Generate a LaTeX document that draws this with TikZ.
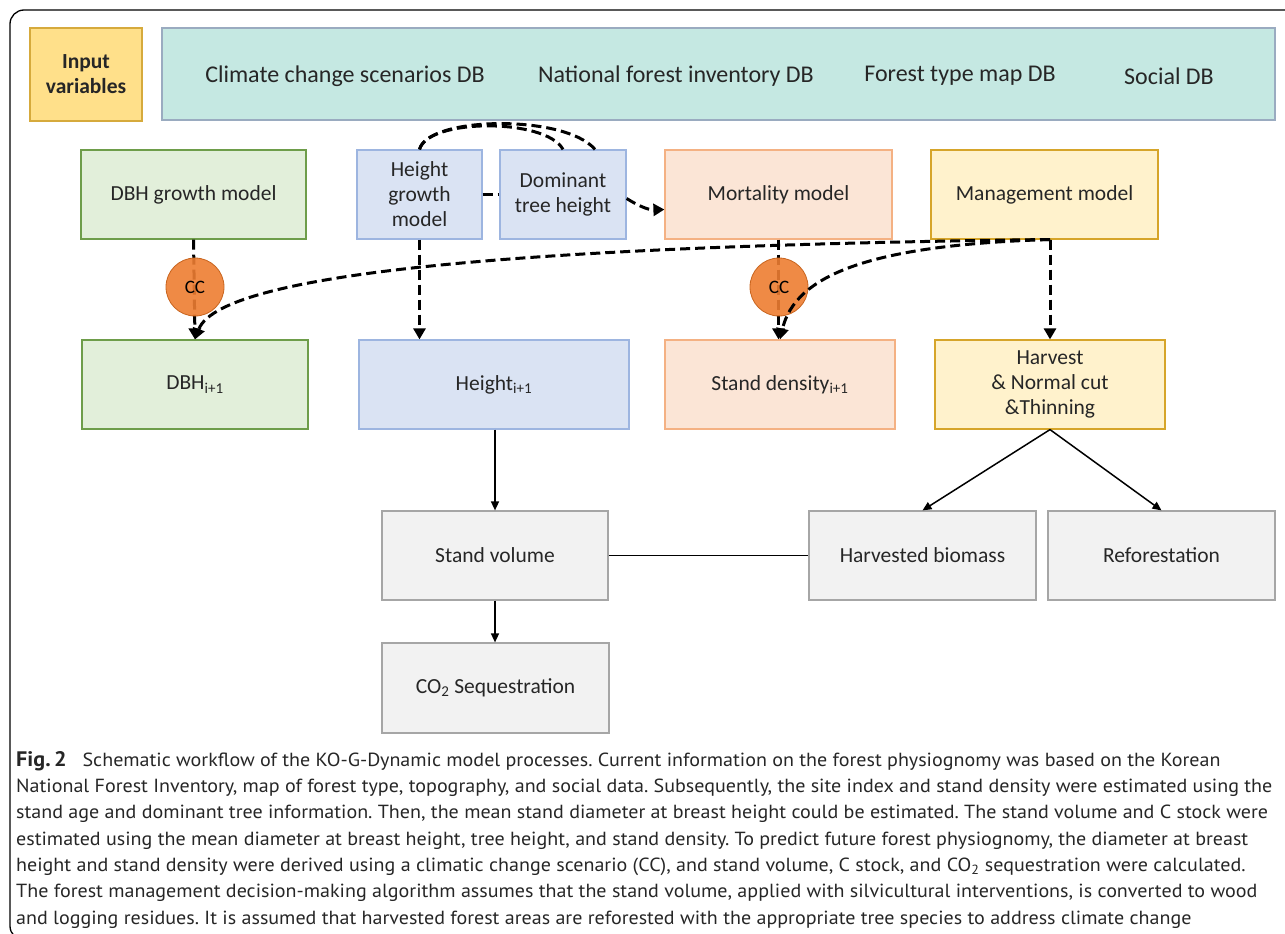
\documentclass[tikz,border=0pt]{standalone}
\usepackage{fontspec}
\setmainfont{Carlito}
\newfontfamily\capfont[FakeStretch=1.055]{PT Sans}
\usetikzlibrary{arrows.meta,calc}
\definecolor{inpfill}{HTML}{FFE08A}
\definecolor{inpdraw}{HTML}{D6AA3C}
\definecolor{tealfill}{HTML}{C5E8E2}
\definecolor{tealdraw}{HTML}{9AABC0}
\definecolor{grnfill}{HTML}{E2EFDA}
\definecolor{grndraw}{HTML}{6E9D4A}
\definecolor{blufill}{HTML}{DAE3F3}
\definecolor{bludraw}{HTML}{9DB5E0}
\definecolor{orgfill}{HTML}{FBE5D6}
\definecolor{orgdraw}{HTML}{F4B183}
\definecolor{ylwfill}{HTML}{FFF2CC}
\definecolor{ylwdraw}{HTML}{D6A52A}
\definecolor{gryfill}{HTML}{F2F2F2}
\definecolor{grydraw}{HTML}{A6A6A6}
\definecolor{ccfill}{HTML}{ED7D31}
\definecolor{ccdraw}{HTML}{C8651F}
\frenchspacing
\begin{document}
\begin{tikzpicture}[x=1pt,y=-1pt,
  box/.style={draw, line width=1.2pt, inner sep=0pt, align=center,
    font=\fontsize{21.5}{25}\selectfont, text=black!85},
  gbox/.style={box, fill=grnfill, draw=grndraw},
  bbox/.style={box, fill=blufill, draw=bludraw},
  obox/.style={box, fill=orgfill, draw=orgdraw},
  ybox/.style={box, fill=ylwfill, draw=ylwdraw},
  graybox/.style={box, fill=gryfill, draw=grydraw},
  ccnode/.style={circle, fill=ccfill, fill opacity=0.9, text opacity=1, draw=ccdraw, line width=0.8pt,
    minimum size=58pt, inner sep=0pt, font=\fontsize{19}{20}\selectfont},
  dashline/.style={line width=3pt, dash pattern=on 10pt off 5pt},
  dasharrow/.style={dashline, -{Triangle[length=11pt,width=12pt]}},
  solidarrow/.style={line width=1.5pt, -{Triangle[length=9pt,width=8pt]}},
  dbtext/.style={font=\fontsize{24}{28}\selectfont, text=black!85},
  capline/.style={anchor=base west, inner sep=0pt, font=\capfont\fontsize{19}{22}\selectfont, text=black!85}
]
\useasboundingbox (0,0) rectangle (1285,934);
\clip (0,0) rectangle (1285,934);
\draw[line width=1.3pt, rounded corners=14pt] (10,10) rectangle (1310,940);

% input row
\node[box, fill=inpfill, draw=inpdraw, minimum width=112pt, minimum height=93pt,
  font=\bfseries\fontsize{21.5}{25}\selectfont] (inp) at (86,74.5) {Input\\variables};
\node[box, fill=tealfill, draw=tealdraw, minimum width=1113pt, minimum height=92pt] (db) at (718.5,74) {};
\node[dbtext] (db1) at (345,76) {Climate change scenarios DB};
\node[dbtext] (db2) at (676,76) {National forest inventory DB};
\node[dbtext] (db3) at (960,76) {Forest type map DB};
\node[dbtext] (db4) at (1169,76) {Social DB};

% model row
\node[gbox, minimum width=225pt, minimum height=89pt] (dbhg) at (193.5,194.5) {DBH growth model};
\node[bbox, minimum width=125pt, minimum height=89pt] (hg) at (419.5,194.5) {Height\\growth\\model};
\node[bbox, minimum width=126pt, minimum height=89pt] (dom) at (563,194.5) {Dominant\\tree height};
\node[obox, minimum width=227pt, minimum height=89pt] (mort) at (778.5,194.5) {Mortality model};
\node[ybox, minimum width=227pt, minimum height=89pt] (mgmt) at (1044.5,194.5) {Management model};

% next-step row
\node[gbox, minimum width=226pt, minimum height=89pt] (dbh1) at (195,384.5) {DBH\textsubscript{i+1}};
\node[bbox, minimum width=270pt, minimum height=89pt] (ht1) at (494,384.5) {Height\textsubscript{i+1}};
\node[obox, minimum width=230pt, minimum height=89pt] (sd1) at (780,384.5) {Stand density\textsubscript{i+1}};
\node[ybox, minimum width=230pt, minimum height=89pt] (harv) at (1050,384.5) {Harvest\\\& Normal cut\\\&Thinning};

% lower row
\node[graybox, minimum width=226pt, minimum height=89pt] (sv) at (495,555.5) {Stand volume};
\node[graybox, minimum width=227pt, minimum height=89pt] (hb) at (922.5,555.5) {Harvested biomass};
\node[graybox, minimum width=227pt, minimum height=89pt] (ref) at (1161.5,555.5) {Reforestation};
\node[graybox, minimum width=227pt, minimum height=90pt] (co2) at (495.5,688) {CO\textsubscript{2} Sequestration};

% coordinates
\coordinate (mg) at (1050,239.5);

% dashed connectors (behind the CC circles)
\draw[dasharrow] (dbhg.south) -- (dbh1.north);
\draw[dasharrow] (hg.south) -- (hg.south |- ht1.north);
\draw[dasharrow] (mort.south) -- (mort.south |- sd1.north);
\draw[dasharrow] (mg) -- (mg |- harv.north);
\draw[dashline] (hg.east) -- (dom.west);
\draw[dashline] (hg.north) .. controls (428,118) and (546,118) .. ($(dom.north)+(0,0)$);
\draw[dashline] (hg.north) .. controls (428,116) and (565,114) .. ($(dom.north)+(32,0)$);
\draw[dasharrow] ($(dom.east)+(0,4)$) .. controls (642,208) and (650,210) .. ($(mort.west)+(0,15)$);

% CC circles
\node[ccnode] (cc1) at (195,287) {CC};
\node[ccnode] (cc2) at (779,287) {CC};

% management curves (in front)
\draw[dasharrow] (mg) .. controls (600,245) and (222,266) .. (dbh1.north);
\draw[dasharrow] (mg) .. controls (870,245) and (795,275) .. (sd1.north);

% solid connectors
\draw[solidarrow] (ht1.south -| sv.north) -- (sv.north);
\draw[solidarrow] (sv.south) -- (sv.south |- co2.north);
\draw[line width=1.5pt] (sv.east) -- (hb.west);
\draw[solidarrow] (harv.south) -- (hb.north);
\draw[solidarrow] (harv.south) -- (ref.north);

% caption
\node[capline] (c1) at (16,766) {\textbf{\fontsize{21}{22}\selectfont Fig.\,2}\hspace{0.55em} Schematic workflow of the KO-G-Dynamic model processes. Current information on the forest physiognomy was based on the Korean};
\node[capline] (c2) at (16,792) {National Forest Inventory, map of forest type, topography, and social data. Subsequently, the site index and stand density were estimated using the};
\node[capline] (c3) at (16,818.5) {stand age and dominant tree information. Then, the mean stand diameter at breast height could be estimated. The stand volume and C stock were};
\node[capline] (c4) at (16,845) {estimated using the mean diameter at breast height, tree height, and stand density. To predict future forest physiognomy, the diameter at breast};
\node[capline] (c5) at (16,871) {height and stand density were derived using a climatic change scenario (CC), and stand volume, C stock, and CO\textsubscript{2} sequestration were calculated.};
\node[capline] (c6) at (16,897.5) {The forest management decision-making algorithm assumes that the stand volume, applied with silvicultural interventions, is converted to wood};
\node[capline] (c7) at (16,924) {and logging residues. It is assumed that harvested forest areas are reforested with the appropriate tree species to address climate change};
\end{tikzpicture}
\end{document}
